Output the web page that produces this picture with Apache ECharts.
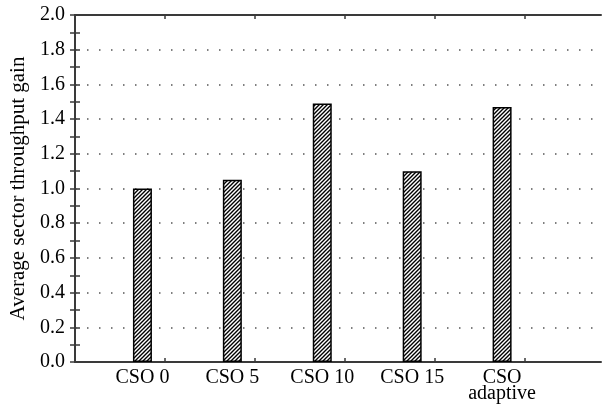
<!DOCTYPE html>
<html>
<head>
<meta charset="utf-8">
<script src="https://cdn.jsdelivr.net/npm/echarts@6/dist/echarts.min.js"></script>
<style>
  html, body { margin: 0; padding: 0; background: #fff; }
  #chart { width: 608px; height: 409px; }
</style>
</head>
<body>
<div id="chart"></div>
<script>
const categories = ['CSO 0', 'CSO 5', 'CSO 10', 'CSO 15', 'CSO\nadaptive']
const barPositions = [0.75, 1.75, 2.75, 3.75, 4.75]
const gainValues = [1.0, 1.05, 1.49, 1.1, 1.47]
const xTickValues = [1, 2, 3, 4, 5]

const font = 'Liberation Serif'
const axisColor = '#3a3a3a'

// hatch fill ////
function makeHatch() {
  const c = document.createElement('canvas')
  c.width = 4
  c.height = 4
  const ctx = c.getContext('2d')
  ctx.fillStyle = '#fff'
  ctx.fillRect(0, 0, 4, 4)
  ctx.strokeStyle = '#000'
  ctx.lineWidth = 1.4
  ctx.beginPath()
  for (let k = -4; k <= 8; k += 4) {
    ctx.moveTo(k - 2, 6)
    ctx.lineTo(k + 6, -2)
  }
  ctx.stroke()
  return c
}

const chart = echarts.init(document.getElementById('chart'))

const baseX = {
  type: 'value',
  min: 0,
  max: 5.85,
  splitLine: { show: false },
  axisLine: { show: true, onZero: false, lineStyle: { color: axisColor, width: 2 } },
  axisTick: { show: true, inside: true, length: 4, customValues: xTickValues, lineStyle: { color: axisColor, width: 1.5 } }
}

chart.setOption({
  animation: false,
  grid: { left: 75, right: 7, top: 15, bottom: 47 },
  xAxis: [
    Object.assign({}, baseX, {
      position: 'bottom',
      axisLabel: {
        show: true,
        customValues: barPositions,
        margin: 8,
        fontFamily: font,
        fontSize: 20,
        lineHeight: 16,
        color: '#000',
        formatter: v => categories[barPositions.indexOf(v)] || ''
      }
    }),
    Object.assign({}, baseX, {
      position: 'top',
      axisLabel: { show: false }
    })
  ],
  yAxis: [
    {
      type: 'value',
      min: 0,
      max: 2,
      interval: 0.2,
      name: 'Average sector throughput gain',
      nameLocation: 'middle',
      nameRotate: 90,
      nameGap: 41,
      nameTextStyle: { fontFamily: font, fontSize: 21, color: '#000' },
      axisLine: { show: true, lineStyle: { color: axisColor, width: 2 } },
      axisTick: { show: true, inside: true, length: 5, lineStyle: { color: axisColor, width: 1.5 } },
      minorTick: { show: true, splitNumber: 2, length: 5, lineStyle: { color: axisColor, width: 1.5 } },
      axisLabel: {
        margin: 10,
        fontFamily: font,
        fontSize: 20,
        color: '#000',
        formatter: v => v.toFixed(1)
      },
      splitLine: { show: true, lineStyle: { color: '#555', width: 1.5, type: [1.5, 10.5] } }
    },
    {
      type: 'value',
      min: 0,
      max: 2,
      interval: 0.1,
      position: 'right',
      axisLine: { show: true, lineStyle: { color: axisColor, width: 2 } },
      axisTick: { show: true, inside: true, length: 5, lineStyle: { color: axisColor, width: 1.5 } },
      axisLabel: { show: false },
      splitLine: { show: false }
    }
  ],
  series: [
    {
      type: 'bar',
      xAxisIndex: 0,
      yAxisIndex: 0,
      barWidth: 19,
      data: barPositions.map((x, i) => [x, gainValues[i]]),
      itemStyle: {
        color: { image: makeHatch(), repeat: 'repeat' },
        borderColor: '#000',
        borderWidth: 1.5
      }
    }
  ]
})
</script>
</body>
</html>
